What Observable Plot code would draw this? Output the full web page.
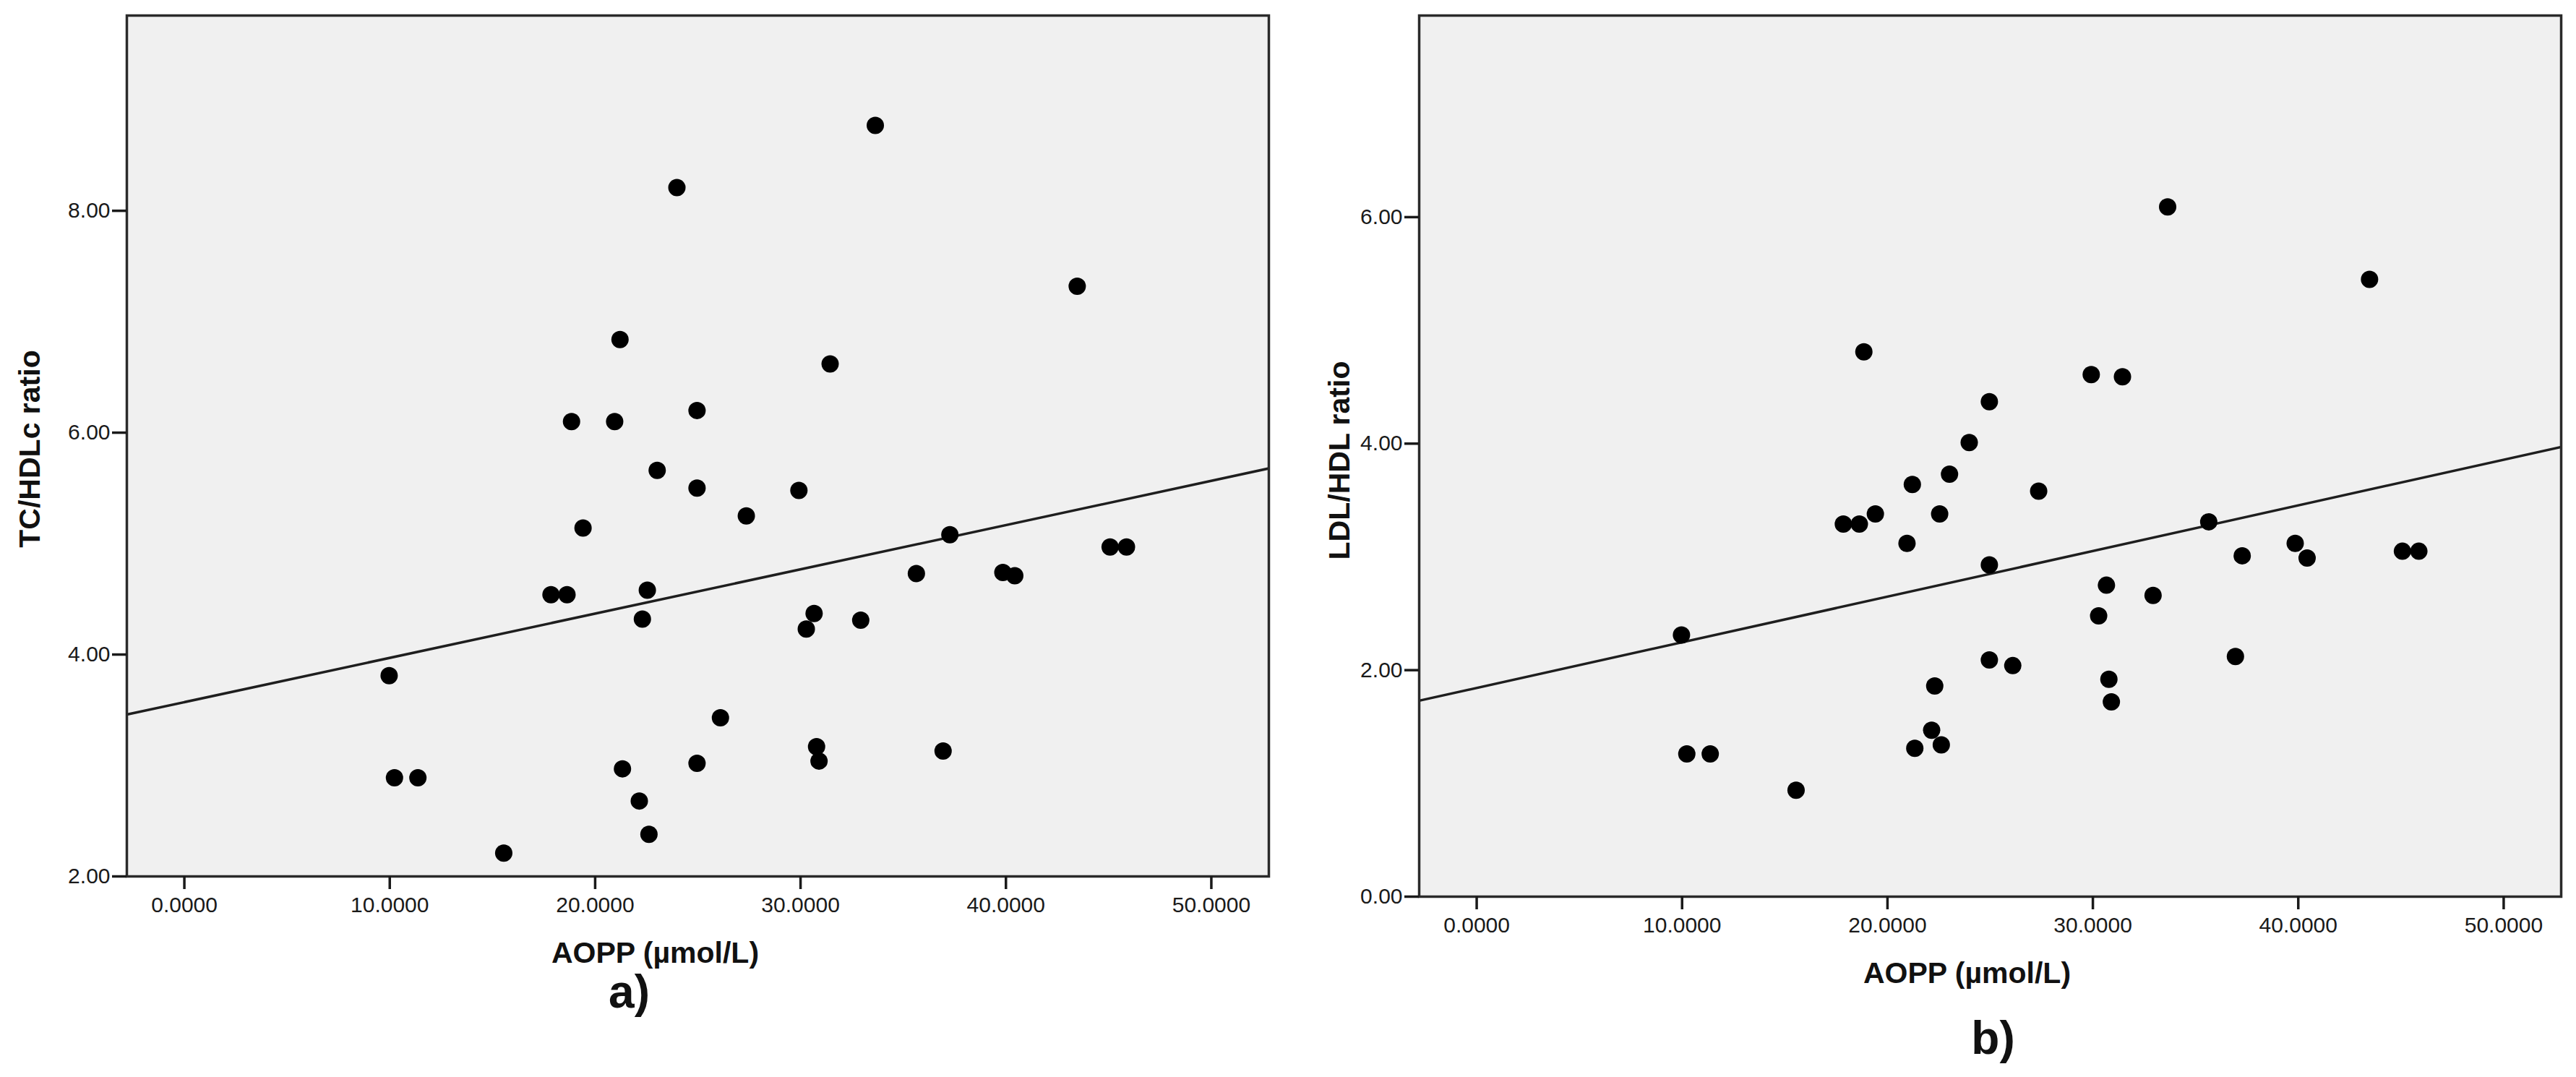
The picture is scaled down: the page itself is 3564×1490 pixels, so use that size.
<!DOCTYPE html>
<html>
<head>
<meta charset="utf-8">
<script src="https://cdn.jsdelivr.net/npm/d3@7"></script>
<script src="https://cdn.jsdelivr.net/npm/@observablehq/plot@0.6"></script>
<style>
  html, body { margin: 0; padding: 0; background: #fff; }
  #wrap { position: relative; width: 3564px; height: 1490px; overflow: hidden; font-family: "Liberation Sans", Arial, sans-serif; }
  .panel { position: absolute; top: 0; }
</style>
</head>
<body>
<div id="wrap">
  <div id="pa" class="panel" style="left:0px"></div>
  <div id="pb" class="panel" style="left:1790px"></div>
</div>
<script>
// AOPP (µmol/L), shared by both panels
const aopp = [9.97, 10.23, 11.37, 15.55, 17.85, 18.63, 18.85, 19.41, 20.95, 21.21,
  21.33, 22.15, 22.30, 22.54, 22.62, 23.02, 23.98, 24.96, 24.96, 24.96,
  26.10, 27.36, 29.92, 30.28, 30.66, 30.78, 30.90, 31.44, 32.93, 33.64,
  35.64, 36.94, 37.27, 39.85, 40.43, 43.47, 45.07, 45.87];
// TC/HDLc ratio (panel a)
const tcHdl = [3.81, 2.89, 2.89, 2.21, 4.54, 4.54, 6.10, 5.14, 6.10, 6.84,
  2.97, 2.68, 4.32, 4.58, 2.38, 5.66, 8.21, 6.20, 5.50, 3.02,
  3.43, 5.25, 5.48, 4.23, 4.37, 3.17, 3.04, 6.62, 4.31, 8.77,
  4.73, 3.13, 5.08, 4.74, 4.71, 7.32, 4.97, 4.97];
// LDL/HDL ratio (panel b)
const ldlHdl = [2.31, 1.26, 1.26, 0.94, 3.29, 3.29, 4.81, 3.38, 3.12, 3.64,
  1.31, 1.47, 1.86, 3.38, 1.34, 3.73, 4.01, 4.37, 2.93, 2.09,
  2.04, 3.58, 4.61, 2.48, 2.75, 1.92, 1.72, 4.59, 2.66, 6.09,
  3.31, 2.12, 3.01, 3.12, 2.99, 5.45, 3.05, 3.05];
// Fit lines: [intercept, slope]
const fitA = [3.571, 0.0399];
const fitB = [1.843, 0.0403];

const xTicks = [0, 10, 20, 30, 40, 50];
const yTicksA = [2, 4, 6, 8];
const yTicksB = [0, 2, 4, 6];
const xTitle = "AOPP (µmol/L)";
const yTitleA = "TC/HDLc ratio";
const yTitleB = "LDL/HDL ratio";
const panelA = "a)";
const panelB = "b)";

function scatter(opts) {
  const xDom = [-2.8, 52.8];
  const data = aopp.map((x, i) => ({x, y: opts.ys[i]}));
  const fitLine = xDom.map(x => ({x, y: opts.fit[0] + opts.fit[1] * x}));
  const font = "'Liberation Sans', Arial, sans-serif";
  return Plot.plot({
    width: opts.width, height: 1490,
    marginLeft: opts.ml, marginRight: opts.mr, marginTop: 21, marginBottom: 1490 - 21 - opts.ph,
    style: {fontFamily: font, fontSize: "30px", color: "#1a1a1a", background: "transparent", overflow: "visible"},
    x: {domain: xDom, ticks: xTicks, tickFormat: d3.format(".4f")},
    y: {domain: opts.yDom, ticks: opts.yTicks, tickFormat: d3.format(".2f")},
    marks: [
      Plot.frame({fill: "#f0f0f0"}),
      Plot.line(fitLine, {x: "x", y: "y", stroke: "#1e1e1e", strokeWidth: 3.5, clip: true}),
      Plot.dot(data, {x: "x", y: "y", r: 12, fill: "#000", stroke: "none"}),
      Plot.frame({stroke: "#2a2a2a", strokeWidth: 3.5}),
      Plot.axisX({ticks: xTicks, tickFormat: d3.format(".4f"), tickSize: 18, tickPadding: 10, strokeWidth: 3.5, label: null, fontSize: 30}),
      Plot.axisY({ticks: opts.yTicks, tickFormat: d3.format(".2f"), tickSize: 20, tickPadding: 3, strokeWidth: 3.5, label: null, fontSize: 30}),
      Plot.text([xTitle], {frameAnchor: "bottom", dx: opts.xtDx, dy: 106, textAnchor: "middle", lineAnchor: "middle", fontSize: 41, fontWeight: "bold", fill: "#111"}),
      Plot.text([opts.yTitle], {frameAnchor: "left", dx: opts.ytDx, dy: opts.ytDy, rotate: -90, textAnchor: "middle", lineAnchor: "middle", fontSize: 41, fontWeight: "bold", fill: "#111"}),
      Plot.text([opts.label], {frameAnchor: "bottom", dx: opts.lDx, dy: opts.lDy, textAnchor: "middle", lineAnchor: "middle", fontSize: 64, fontWeight: "bold", fill: "#111"})
    ]
  });
}

document.getElementById("pa").appendChild(scatter({
  ys: tcHdl, fit: fitA, yDom: [2, 9.76], yTicks: yTicksA, yTitle: yTitleA, label: panelA,
  width: 1790, ml: 175, mr: 35, ph: 1191,
  xtDx: -59, ytDx: -134, ytDy: 4, lDx: -95, lDy: 161
}));
document.getElementById("pb").appendChild(scatter({
  ys: ldlHdl, fit: fitB, yDom: [0, 7.78], yTicks: yTicksB, yTitle: yTitleB, label: panelB,
  width: 1774, ml: 173, mr: 21, ph: 1219,
  xtDx: -32, ytDx: -110, ytDy: 6, lDx: 4, lDy: 197
}));
</script>
</body>
</html>
